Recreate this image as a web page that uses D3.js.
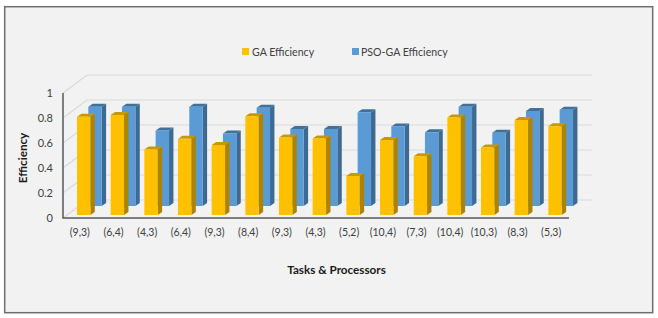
<!DOCTYPE html>
<html><head><meta charset="utf-8">
<script src="https://cdn.jsdelivr.net/npm/d3@7"></script>
<style>html,body{margin:0;padding:0;background:#fff}svg{display:block}text{font-family:Lato,"Open Sans",sans-serif}</style>
</head><body><svg id="c" width="658" height="318"></svg>
<script>
const categories=["(9,3)","(6,4)","(4,3)","(6,4)","(9,3)","(8,4)","(9,3)","(4,3)","(5,2)","(10,4)","(7,3)","(10,4)","(10,3)","(8,3)","(5,3)"];
const gaValues=[0.786,0.80,0.525,0.61,0.56,0.79,0.62,0.613,0.312,0.60,0.47,0.78,0.54,0.76,0.71];
const psoValues=[0.794,0.794,0.605,0.794,0.58,0.786,0.616,0.616,0.75,0.637,0.59,0.794,0.587,0.76,0.77];
const yTicks=[0,0.2,0.4,0.6,0.8,1];
const seriesNames=["GA Efficiency","PSO-GA Efficiency"];

const svg=d3.select("#c");
svg.append("rect").attr("x",4.7).attr("y",6.7).attr("width",648).attr("height",306).attr("fill","#f2f2f2").attr("stroke","#6e6e6e").attr("stroke-width",1.5);

const x0=63,x1=569,dx=24,dy=-18;
const y=d3.scaleLinear().domain([0,1]).range([218,93]);
const x=d3.scaleBand().domain(d3.range(categories.length)).range([x0,568]);
const grid=svg.append("g").attr("fill","none").attr("stroke","#d9d9d9").attr("stroke-width",1.2);
yTicks.forEach(t=>{
  const p=y(t);
  grid.append("path").attr("d",`M${x0},${p}L${x0+dx},${p+dy}H592`);
});
svg.append("path").attr("d",`M${x0},${y(1)}V${y(0)}H${x1}`).attr("fill","none").attr("stroke","#595959").attr("stroke-width",1.5);

svg.append("g").selectAll("text").data(yTicks).join("text")
  .attr("x",53).attr("y",d=>y(d)+4).attr("text-anchor","end").attr("font-size",11).attr("fill","#404040").text(d=>d);
svg.append("g").selectAll("text").data(categories).join("text")
  .attr("x",(d,i)=>x(i)+x.bandwidth()/2).attr("y",236).attr("text-anchor","middle").attr("font-size",10.5).attr("fill","#404040").text(d=>d);
svg.append("text").attr("transform","translate(27,158) rotate(-90)").attr("text-anchor","middle").attr("font-size",11.7).attr("font-weight",700).attr("fill","#1a1a1a").text("Efficiency");
svg.append("text").attr("x",336.5).attr("y",274).attr("text-anchor","middle").attr("font-size",11.7).attr("font-weight",700).attr("fill","#1a1a1a").text("Tasks & Processors");

function bars(values,off,base,c){
  const g=svg.append("g");
  const bw=13.4,ddx=4.4,ddy=-3;
  const h=d3.scaleLinear().domain([0,1]).range([0,125]);
  values.forEach((v,i)=>{
    const l=x(i)+off,r=l+bw,b=base,t=base-h(v);
    g.append("path").attr("fill",c.side).attr("d",`M${r},${b}L${r+ddx},${b+ddy}V${t+ddy}L${r},${t}Z`);
    g.append("path").attr("fill",c.top).attr("d",`M${l},${t}L${l+ddx},${t+ddy}H${r+ddx}L${r},${t}Z`);
    g.append("rect").attr("fill",c.front).attr("x",l).attr("y",t).attr("width",bw).attr("height",b-t);
  });
}
const blue={front:"#5b9bd5",side:"#3c6a92",top:"#3f719d"};
const gold={front:"#ffc000",side:"#ae8300",top:"#c99800"};
bars(psoValues,25.3,206,blue);
bars(gaValues,14,215,gold);

const leg=svg.append("g");
[[242,252,gold.front],[352,361,blue.front]].forEach((d,i)=>{
  leg.append("rect").attr("x",d[0]).attr("y",48).attr("width",7).attr("height",7).attr("fill",d[2]);
  leg.append("text").attr("x",d[1]).attr("y",55.5).attr("font-size",10.6).attr("fill","#404040").text(seriesNames[i]);
});
</script></body></html>
